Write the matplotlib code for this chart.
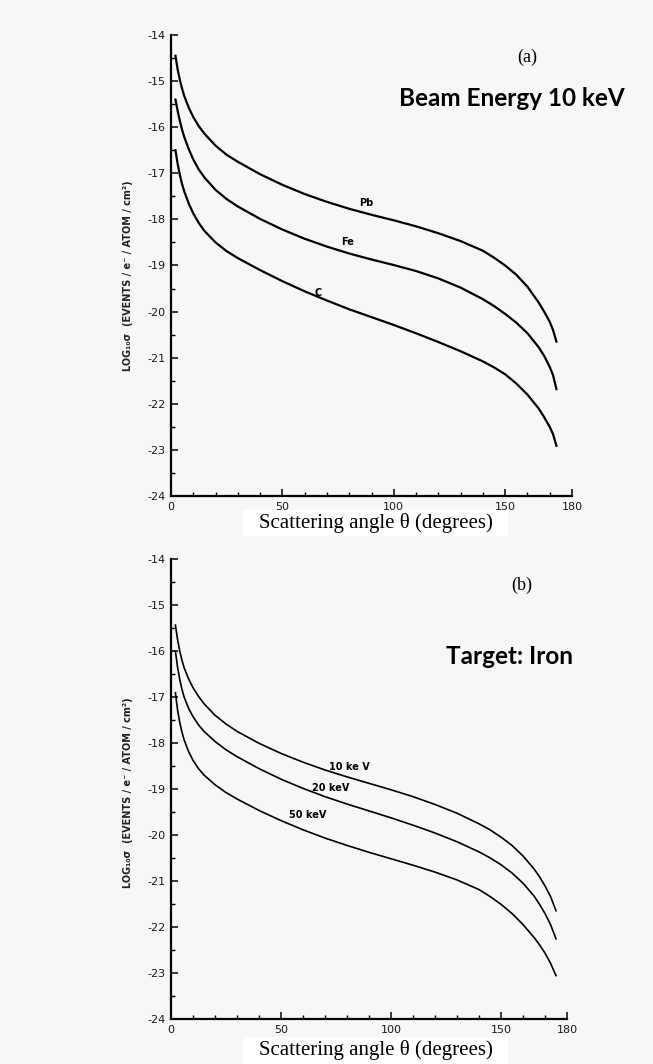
import numpy as np
import matplotlib
matplotlib.use("Agg")
import matplotlib.pyplot as plt
from matplotlib.patches import Rectangle
from matplotlib.ticker import MultipleLocator, FixedLocator

# panel (a) : beam energy 10 keV, three targets
angles_a = [2, 3, 4, 5, 6, 8, 10, 12.5, 15, 20, 25, 30, 40, 50, 60, 70, 80, 90,
            100, 110, 120, 130, 140, 145, 150, 155, 160, 165, 167.5, 170, 171.5, 173]
pb = [-14.45, -14.75, -14.98, -15.17, -15.33, -15.58, -15.78, -15.98, -16.14, -16.40,
      -16.60, -16.75, -17.02, -17.25, -17.45, -17.62, -17.77, -17.90, -18.02, -18.15,
      -18.30, -18.47, -18.68, -18.83, -19.00, -19.20, -19.46, -19.80, -20.00, -20.22,
      -20.40, -20.65]
fe = [-15.40, -15.65, -15.87, -16.06, -16.22, -16.48, -16.70, -16.92, -17.09, -17.36,
      -17.56, -17.72, -17.99, -18.22, -18.42, -18.59, -18.74, -18.87, -18.99, -19.12,
      -19.28, -19.48, -19.73, -19.88, -20.05, -20.24, -20.47, -20.77, -20.96, -21.20,
      -21.38, -21.68]
c = [-16.50, -16.80, -17.04, -17.24, -17.40, -17.66, -17.87, -18.08, -18.25, -18.50,
     -18.69, -18.84, -19.10, -19.34, -19.56, -19.76, -19.95, -20.12, -20.29, -20.47,
     -20.66, -20.86, -21.08, -21.21, -21.36, -21.56, -21.80, -22.10, -22.29, -22.50,
     -22.66, -22.91]

# panel (b) : iron target, three beam energies
angles_b = [2, 3, 4, 5, 6, 8, 10, 12.5, 15, 20, 25, 30, 40, 50, 60, 70, 80, 90,
            100, 110, 120, 130, 140, 145, 150, 155, 160, 165, 167.5, 170, 172.5, 175]
kev10 = [-15.43, -15.75, -16.00, -16.20, -16.36, -16.60, -16.79, -16.98, -17.14, -17.39,
         -17.58, -17.74, -18.00, -18.22, -18.41, -18.58, -18.73, -18.87, -19.01, -19.16,
         -19.33, -19.52, -19.75, -19.88, -20.04, -20.22, -20.45, -20.73, -20.90, -21.10,
         -21.33, -21.64]
kev20 = [-16.00, -16.35, -16.62, -16.83, -17.00, -17.24, -17.42, -17.60, -17.74, -17.96,
         -18.14, -18.29, -18.55, -18.78, -18.98, -19.16, -19.32, -19.47, -19.62, -19.78,
         -19.95, -20.14, -20.36, -20.49, -20.64, -20.82, -21.04, -21.32, -21.50, -21.70,
         -21.94, -22.25]
kev50 = [-16.90, -17.28, -17.55, -17.76, -17.93, -18.18, -18.37, -18.55, -18.69, -18.90,
         -19.07, -19.21, -19.46, -19.68, -19.88, -20.06, -20.22, -20.37, -20.51, -20.65,
         -20.80, -20.97, -21.18, -21.33, -21.50, -21.70, -21.94, -22.22, -22.38, -22.56,
         -22.78, -23.05]

labels_a = ["Pb", "Fe", "C"]
labels_b = ["10 ke V", "20 keV", "50 keV"]
xticks = [0, 50, 100, 150, 180]
yticks = list(range(-24, -13))

bg = "#f5f7f8"
W, H = 653, 1064

fig = plt.figure(figsize=(W / 100, H / 100), dpi=100, facecolor=bg)


def px_axes(x0, x1, ytop, ybot):
    return fig.add_axes([x0 / W, 1 - ybot / H, (x1 - x0) / W, (ybot - ytop) / H])


def style_axes(ax):
    ax.set_facecolor(bg)
    ax.set_xlim(0, 180)
    ax.set_ylim(-24, -14)
    for s in ["top", "right"]:
        ax.spines[s].set_visible(False)
    for s in ["left", "bottom"]:
        ax.spines[s].set_linewidth(1.6)
    ax.xaxis.set_major_locator(FixedLocator(xticks))
    ax.xaxis.set_minor_locator(FixedLocator([t for t in range(10, 180, 10) if t not in xticks]))
    ax.yaxis.set_major_locator(FixedLocator(yticks))
    ax.yaxis.set_minor_locator(MultipleLocator(0.5))
    ax.set_yticklabels([str(t) for t in yticks])
    ax.tick_params(which="major", direction="in", length=5, width=1.1, labelsize=8,
                   pad=4, labelcolor="#1a1a1a")
    ax.tick_params(which="minor", direction="in", length=3, width=1.0)


def y_label(y):
    fig.text(128 / W, 1 - y / H, "LOG₁₀σ  (EVENTS / e⁻ / ATOM / cm²)", rotation=90,
             ha="center", va="center", fontsize=7, fontweight="bold", color="#222222")


def x_label(ytop, ybot, y):
    fig.add_artist(Rectangle((243 / W, 1 - ybot / H), 265 / W, (ybot - ytop) / H,
                             transform=fig.transFigure, facecolor="white", edgecolor="none"))
    fig.text(376 / W, 1 - y / H, "Scattering angle θ (degrees)", ha="center", va="center",
             fontsize=15, family="Liberation Serif")


# ---- panel (a)
ax1 = px_axes(171, 572, 35, 496)
style_axes(ax1)
ax1.plot(angles_a, pb, color="black", lw=1.6)
ax1.plot(angles_a, fe, color="black", lw=1.6)
ax1.plot(angles_a, c, color="black", lw=1.6)
ax1.text(87.8, -17.64, labels_a[0], fontsize=7, fontweight="bold", ha="center", va="center")
ax1.text(79.4, -18.50, labels_a[1], fontsize=7, fontweight="bold", ha="center", va="center")
ax1.text(65.9, -19.60, labels_a[2], fontsize=7, fontweight="bold", ha="center", va="center")
y_label(276)
x_label(510, 536, 523)
fig.text(527 / W, 1 - 57 / H, "(a)", ha="center", va="center", fontsize=13, family="Liberation Serif")
fig.text(512 / W, 1 - 98 / H, "Beam Energy 10 keV", ha="center", va="center",
         fontsize=17.5, fontweight="bold", family="Lato")

# ---- panel (b)
ax2 = px_axes(171, 567, 559.3, 1019.3)
style_axes(ax2)
ax2.plot(angles_b, kev10, color="black", lw=1.2)
ax2.plot(angles_b, kev20, color="black", lw=1.2)
ax2.plot(angles_b, kev50, color="black", lw=1.2)
ax2.text(80.9, -18.51, labels_b[0], fontsize=7, fontweight="bold", ha="center", va="center")
ax2.text(72.6, -18.98, labels_b[1], fontsize=7, fontweight="bold", ha="center", va="center")
ax2.text(62.3, -19.56, labels_b[2], fontsize=7, fontweight="bold", ha="center", va="center")
y_label(793)
x_label(1037, 1064, 1050)
fig.text(522 / W, 1 - 585 / H, "(b)", ha="center", va="center", fontsize=13, family="Liberation Serif")
fig.text(509 / W, 1 - 657 / H, "Target: Iron", ha="center", va="center",
         fontsize=17.5, fontweight="bold", family="Lato")

fig.savefig("out.png", dpi=100, facecolor=bg)
